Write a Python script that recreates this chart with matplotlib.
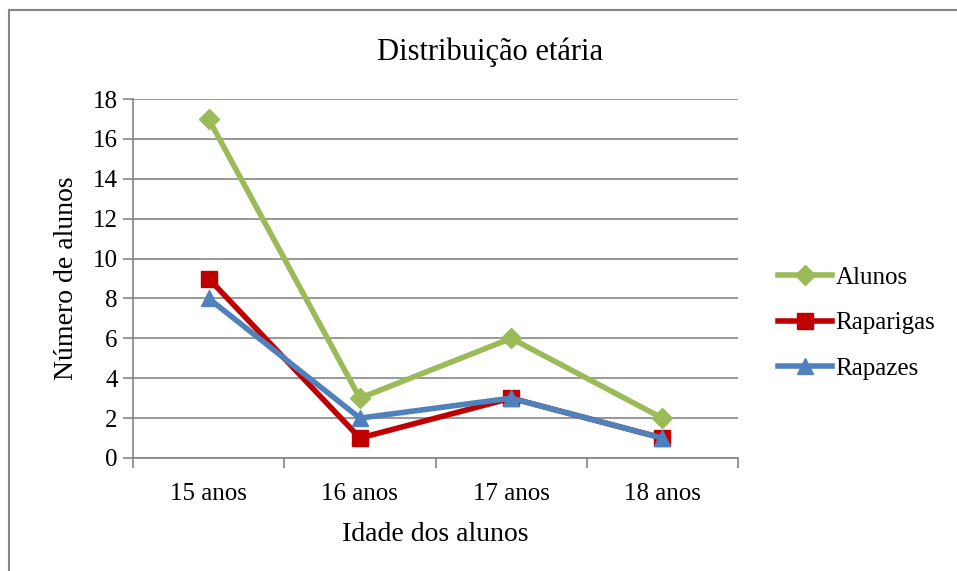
import matplotlib
matplotlib.use("Agg")
import matplotlib.pyplot as plt
from matplotlib.lines import Line2D

categories = ["15 anos", "16 anos", "17 anos", "18 anos"]
alunos = [17, 3, 6, 2]
raparigas = [9, 1, 3, 1]
rapazes = [8, 2, 3, 1]
yticks = [0, 2, 4, 6, 8, 10, 12, 14, 16, 18]

plt.rcParams['font.family'] = ['Liberation Serif', 'DejaVu Serif']

W, H = 957, 571
fig = plt.figure(figsize=(W/100, H/100), dpi=100)
ax = fig.add_axes([133/W, 1-458/H, (738-133)/W, (458-99)/H])

x = list(range(len(categories)))
green = "#9BBB59"
red = "#C00000"
blue = "#4F81BD"
ax.plot(x, alunos, color=green, lw=4, marker="D", ms=10, label="Alunos", zorder=3)
ax.plot(x, raparigas, color=red, lw=4, marker="s", ms=12, label="Raparigas", zorder=4)
ax.plot(x, rapazes, color=blue, lw=4, marker="^", ms=12, label="Rapazes", zorder=5)

ax.set_xlim(-0.5, len(categories)-0.5)
ax.set_ylim(0, 18)
ax.set_yticks(yticks)
ax.set_yticklabels([str(v) for v in yticks], fontsize=18)
ax.yaxis.grid(True, color="#868686", lw=1.2)
ax.set_axisbelow(True)
ax.set_xticks(x)
ax.set_xticklabels(categories, fontsize=18)
ax.tick_params(axis='x', length=0, pad=18)
ax.set_xticks([i - 0.5 for i in range(len(categories)+1)], minor=True)
ax.tick_params(axis='x', which='minor', length=7, color="#868686", width=1.2, direction='out')
ax.tick_params(axis='y', length=7, color="#868686", width=1.2, pad=4)
for s in ["top", "right"]:
    ax.spines[s].set_visible(False)
for s in ["left", "bottom"]:
    ax.spines[s].set_color("#868686")
    ax.spines[s].set_linewidth(1.2)

ax.set_xlabel("Idade dos alunos", fontsize=20, labelpad=12)
ax.set_ylabel("Número de alunos", fontsize=20, labelpad=10)
fig.text(490/W, 1-52/H, "Distribuição etária", fontsize=22, ha="center", va="center")

leg = fig.legend(loc="center left", bbox_to_anchor=(778/W, 1-323/H), frameon=False,
                 fontsize=18, handlelength=2.15, handletextpad=0.15, labelspacing=0.92,
                 borderpad=0, borderaxespad=0)

fig.add_artist(Line2D([9/W, 1], [1-10/H, 1-10/H], color="#868686", lw=1.5, transform=fig.transFigure))
fig.add_artist(Line2D([9/W, 9/W], [0, 1-10/H], color="#868686", lw=1.5, transform=fig.transFigure))

fig.savefig("out.png", dpi=100)
